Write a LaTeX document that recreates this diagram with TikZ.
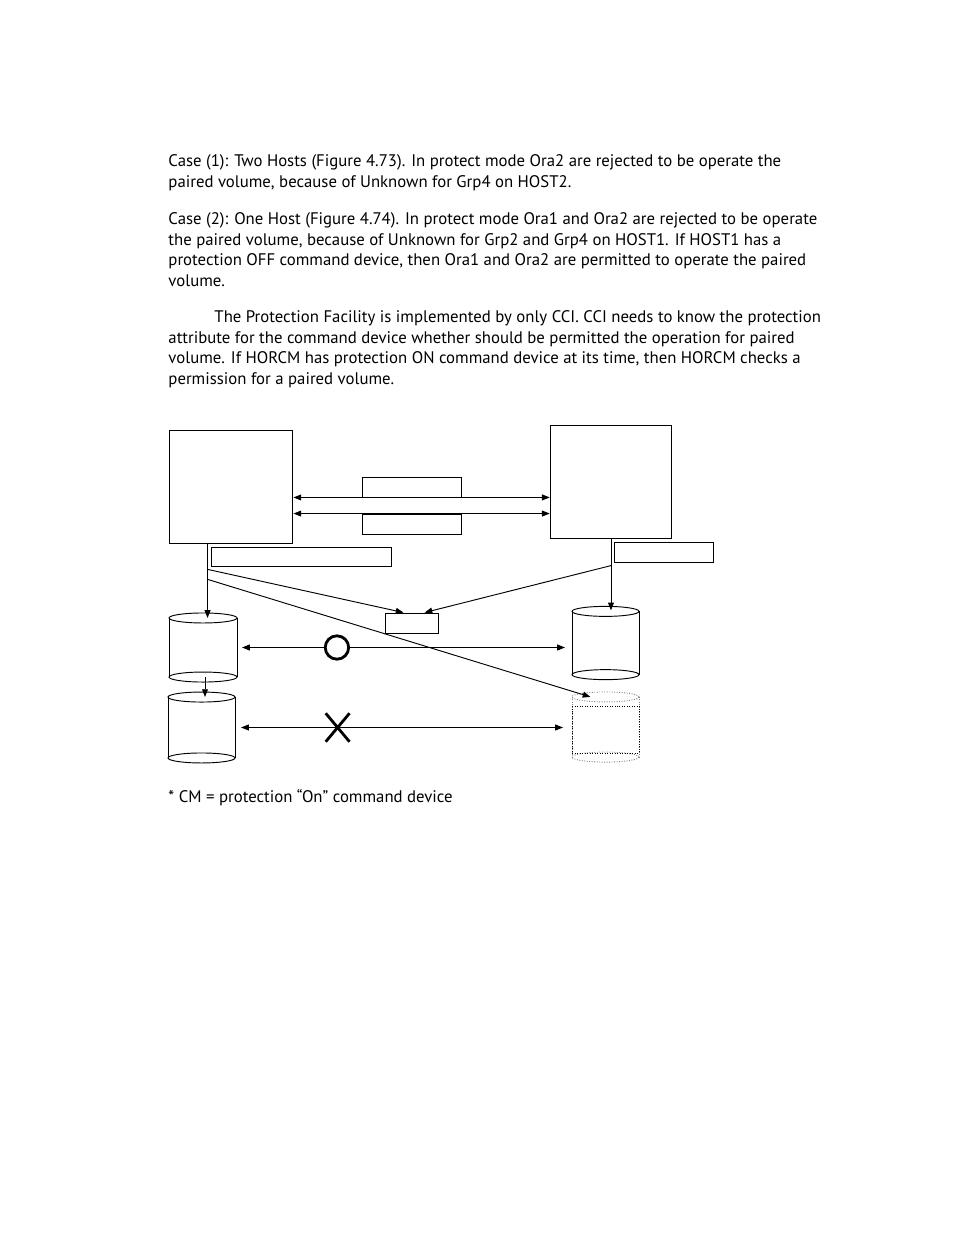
\documentclass[tikz,border=0pt]{standalone}
\usepackage{fontspec}
\setmainfont{PT Sans}
\usetikzlibrary{arrows.meta,positioning,shapes.misc,calc}

% volume outline round a named box: #1 style, #2 node, #3 half width
\newcommand{\volshape}[3][]{%
  \draw[#1] ($(#2.north)+(0,5)$) ellipse [x radius=#3, y radius=5];
  \draw[#1] ($(#2.south)+(0,-5)$) ellipse [x radius=#3, y radius=5];
  \draw[#1] ($(#2.north west)+(0,5)$) -- ($(#2.south west)+(0,-5)$);
  \draw[#1] ($(#2.north east)+(0,5)$) -- ($(#2.south east)+(0,-5)$);
}

\begin{document}
\begin{tikzpicture}[
    x=0.6415pt, y=-0.6415pt,
    line width=0.6pt,
    >={Triangle[length=5pt,width=3.8pt]},
    para/.style={anchor=base west, inner sep=0pt, font=\fontsize{10.75}{13}\selectfont},
    host/.style={draw, rectangle, inner sep=0pt},
    tag/.style={draw, rectangle, inner sep=0pt, minimum width=64pt, minimum height=12.8pt},
    vol/.style={rectangle, inner sep=0pt, outer sep=0pt, minimum width=43pt, minimum height=45pt},
    okmark/.style={draw, circle, line width=1.8pt, fill=white, minimum size=15pt, inner sep=0pt},
    ngmark/.style={draw, cross out, line width=1.8pt, minimum width=13.5pt, minimum height=16.5pt, inner sep=0pt}
  ]
  \useasboundingbox (0,0) rectangle (954,1235);

  % Text
  \node[para] (t1) at (168,166.5) {Case (1): Two Hosts (Figure 4.73). In protect mode Ora2 are rejected to be operate the};
  \node[para] (t2) at (168,187.5) {paired volume, because of Unknown for Grp4 on HOST2.};
  \node[para] (t3) at (168,224.5) {Case (2): One Host (Figure 4.74). In protect mode Ora1 and Ora2 are rejected to be operate};
  \node[para] (t4) at (168,245.5) {the paired volume, because of Unknown for Grp2 and Grp4 on HOST1. If HOST1 has a};
  \node[para] (t5) at (168,265.5) {protection OFF command device, then Ora1 and Ora2 are permitted to operate the paired};
  \node[para] (t6) at (168,286.5) {volume.};
  \node[para] (t7) at (214,322.5) {The Protection Facility is implemented by only CCI. CCI needs to know the protection};
  \node[para] (t8) at (168,343.5) {attribute for the command device whether should be permitted the operation for paired};
  \node[para] (t9) at (168,363.5) {volume. If HORCM has protection ON command device at its time, then HORCM checks a};
  \node[para] (t10) at (168,384.5) {permission for a paired volume.};
  \node[para] (note) at (168,802.5) {* CM = protection “On” command device};

  % Hosts
  \node[host, minimum width=79.5pt, minimum height=73pt] (host1) at (231,487) {};
  \node[host, minimum width=78pt, minimum height=72pt] (host2) at (611,482) {};

  % Tags
  \node[tag] (tagA) at (412,487) {};
  \node[tag] (tagB) at (412,524) {};
  \node[tag, minimum width=115.5pt, minimum height=12.2pt] (tagC) at (301,556.5) {};
  \node[tag] (tagD) at (664,552) {};
  \node[tag, minimum width=34pt] (cm) at (411.5,623) {};

  % Volumes
  \node[vol, minimum width=43.6pt, minimum height=44.3pt] (volA) at (203,647.5) {};
  \node[vol, minimum width=43pt, minimum height=45.5pt] (volB) at (201.5,727.5) {};
  \node[vol, minimum width=43pt, minimum height=47pt] (volC) at (605.5,643) {};
  \node[vol, minimum width=43pt, minimum height=45pt] (volD) at (605.5,727) {};
  \volshape{volA}{34}
  \volshape{volB}{33.5}
  \volshape{volC}{33.5}
  \volshape[gray, densely dotted]{volD}{33.5}
  \draw[densely dotted] ($(volD.center)+(-33.5,-21)$) rectangle ($(volD.center)+(33.5,26)$);

  % Host links
  \draw[<->] (tagA.south -| host1.east) -- (tagA.south -| host2.west);
  \draw[<->] (tagB.north -| host1.east) -- (tagB.north -| host2.west);

  % Drops
  \coordinate (h1drop) at ($(host1.south west)+(39,0)$);
  \coordinate (h1a) at ($(h1drop)+(0,25)$);
  \coordinate (h1b) at ($(h1drop)+(0,35)$);
  \coordinate (h2drop) at (host2.south);
  \coordinate (h2a) at ($(h2drop)+(0,27)$);
  \draw[->] (h1drop) -- ($(h1drop |- volA.north)+(0,5)$);
  \draw[->] (h2drop) -- ($(h2drop |- volC.north)+(0,4)$);
  \draw[->] (h1a) -- ($(cm.north west)+(19,0)$);
  \draw[->] (h2a) -- ($(cm.north)+(13,0)$);
  \draw[->] (h1b) -- ($(volD.north)+(-15,5)$);
  \coordinate (ab) at ($(volA.south)+(2,-5)$);
  \draw[->] (ab) -- ($(ab |- volB.north)+(0,5)$);

  % Pairs
  \draw[<->] ($(volA.east)+(5,0)$) -- node[okmark, pos=0.294] (ok) {} ($(volA.east -| volC.west)+(-7,0)$);
  \draw[<->] ($(volB.east)+(6,0)$) -- node[ngmark, pos=0.3] (ng) {} ($(volB.east -| volD.west)+(-9,0)$);
\end{tikzpicture}
\end{document}
